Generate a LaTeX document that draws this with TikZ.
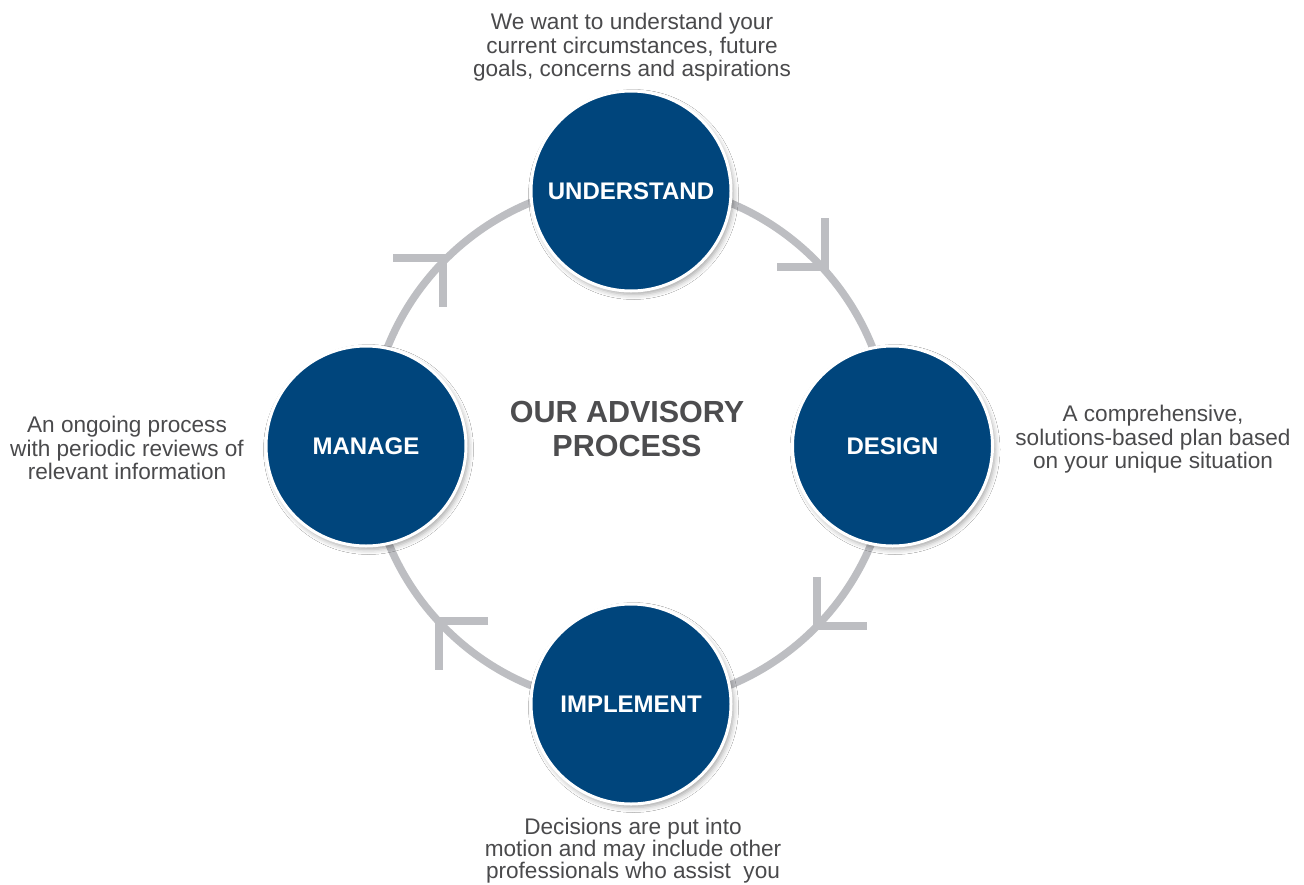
\documentclass[tikz,border=0pt]{standalone}
\usepackage{fontspec}
\setmainfont{Liberation Sans}
\usetikzlibrary{shadows.blur}
\definecolor{ringgray}{HTML}{BDBEC2}
\definecolor{navy}{HTML}{00457C}
\definecolor{txtgray}{HTML}{4A4A4C}
\definecolor{titlegray}{HTML}{4D4D4F}
\tikzset{
  stage/.style={circle, fill=navy, draw=white, line width=3pt, minimum size=200pt, inner sep=0pt,
    text=white, font=\fontsize{24}{28}\selectfont\bfseries,
    blur shadow={shadow xshift=2.5pt, shadow yshift=-3.5pt, shadow blur radius=5pt, shadow opacity=35}},
  desc/.style={align=center, text=txtgray, font=\fontsize{22.6}{23.5}\selectfont, inner sep=0pt, anchor=north},
  ring/.style={draw=ringgray, line width=7.5pt},
  chevron/.style={draw=ringgray, line width=8pt, line cap=butt, line join=miter},
}
\begin{document}
\begin{tikzpicture}[x=1pt,y=-1pt]
\useasboundingbox (0,0) rectangle (1304,884);
\fill[white] (0,0) rectangle (1304,884);

% ring
\coordinate (rc) at (630,444);
\draw[ring] (rc) circle[radius=261pt];

% arrowheads
\coordinate (a1) at (825,267);
\coordinate (a2) at (817,625.5);
\coordinate (a3) at (439,621);
\coordinate (a4) at (442.5,258);
\draw[chevron] ([xshift=-48pt]a1) -- (a1) -- ([yshift=49pt]a1);
\draw[chevron] ([yshift=48.5pt]a2) -- (a2) -- ([xshift=50pt]a2);
\draw[chevron] ([xshift=49pt]a3) -- (a3) -- ([yshift=-49pt]a3);
\draw[chevron] ([xshift=-49.5pt]a4) -- (a4) -- ([yshift=-49pt]a4);

% stages
\node[stage] (understand) at (631,191) {UNDERSTAND};
\node[stage] (design) at (892.5,446) {DESIGN};
\node[stage] (implement) at (631,704) {IMPLEMENT};
\node[stage] (manage) at (366,446) {MANAGE};

% title
\node[align=center, text=titlegray, font=\fontsize{30.5}{34}\selectfont\bfseries, inner sep=0pt] (title) at (627,428.5) {OUR ADVISORY\\PROCESS};

% descriptions
\node[desc] (dtop) at (632,13) {We want to understand your\\current circumstances, future\\goals, concerns and aspirations};
\node[desc] (dright) at (1153,405) {A comprehensive,\\solutions-based plan based\\on your unique situation};
\node[desc] (dleft) at (127,416) {An ongoing process\\with periodic reviews of\\relevant information};
\node[desc, font=\fontsize{22.6}{22}\selectfont] (dbottom) at (633,818) {Decisions are put into\\motion and may include other\\professionals who assist\ \ you};
\end{tikzpicture}
\end{document}
